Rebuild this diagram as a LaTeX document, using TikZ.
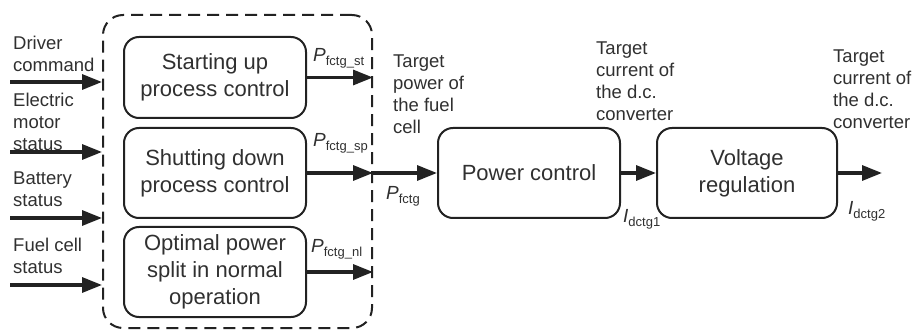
\documentclass[tikz,border=0pt]{standalone}
\usepackage{fontspec}
\setmainfont{Liberation Sans}
\usetikzlibrary{arrows.meta,calc}
\definecolor{ink}{HTML}{222222}
\definecolor{txt}{HTML}{303030}
\tikzset{
  blk/.style={draw=ink, line width=2pt, rounded corners=15pt, align=center, text=txt,
     font=\fontsize{22}{27}\selectfont, inner sep=0pt},
  dashbox/.style={draw=ink, line width=2pt, dash pattern=on 12pt off 7pt, rounded corners=20pt, inner sep=0pt},
  arr/.style={draw=ink, line width=3.2pt, -{Triangle[length=20pt,width=15pt]}},
  lbl/.style={anchor=north west, align=left, inner sep=0pt, text=txt, font=\fontsize{18.5}{22}\selectfont},
  sym/.style={anchor=base west, inner sep=0pt, text=txt, font=\fontsize{19}{22}\selectfont}
}
\newcommand{\Psub}[2]{{\itshape #1}\raisebox{-0.35ex}{\fontsize{13}{13}\selectfont #2}}
\begin{document}
\begin{tikzpicture}[x=1pt,y=-1pt]
\useasboundingbox (0,0) rectangle (916,331);
% group
\node[dashbox, minimum width=269pt, minimum height=313pt] (grp) at (237.5,171.5) {};
% inner blocks
\node[blk, minimum width=182pt, minimum height=81pt] (b1) at (215,77.5) {Starting up\\process control};
\node[blk, minimum width=182pt, minimum height=90pt] (b2) at (215,173) {Shutting down\\process control};
\node[blk, minimum width=182pt, minimum height=90pt] (b3) at (215,272) {Optimal power\\split in normal\\operation};
\node[blk, minimum width=182pt, minimum height=90pt] (pc) at (529,173) {Power control};
\node[blk, minimum width=180pt, minimum height=90pt] (vr) at (747,173) {Voltage\\regulation};
% input coordinates
\coordinate (i1) at (10,82);
\coordinate (i2) at (10,152);
\coordinate (i3) at (10,218);
\coordinate (i4) at (10,285);
\foreach \k in {1,2,3,4}{
  \draw[arr] (i\k) -- (i\k -| grp.west);
}
% outputs of inner blocks
\draw[arr] (b1.east) -- (b1.east -| grp.east);
\draw[arr] (b2.east) -- (b2.east -| grp.east);
\draw[arr] (b3.east) -- (b3.east -| grp.east);
\draw[arr] (b2.east -| grp.east) -- (pc.west);
\draw[arr] (pc.east) -- (vr.west);
\coordinate (out) at (882,173);
\draw[arr] (vr.east) -- (out);
% left labels
\node[lbl] (l1) at (13,36) {Driver\\command};
\node[lbl] (l2) at (13,93) {Electric\\motor\\status};
\node[lbl] (l3) at (13,172) {Battery\\status};
\node[lbl] (l4) at (13,238) {Fuel cell\\status};
% target labels
\node[lbl] (t1) at (393,55) {Target\\power of\\the fuel\\cell};
\node[lbl] (t2) at (596,42) {Target\\current of\\the d.c.\\converter};
\node[lbl] (t3) at (833,50) {Target\\current of\\the d.c.\\converter};
% symbols
\node[sym] (s1) at (313,62) {\Psub{P}{fctg\_st}};
\node[sym] (s2) at (313,147) {\Psub{P}{fctg\_sp}};
\node[sym] (s3) at (311,253) {\Psub{P}{fctg\_nl}};
\node[sym] (s4) at (386,200) {\Psub{P}{fctg}};
\node[sym] (s5) at (623,223) {\Psub{I}{dctg1}};
\node[sym] (s6) at (848,215) {\Psub{I}{dctg2}};
\end{tikzpicture}
\end{document}
